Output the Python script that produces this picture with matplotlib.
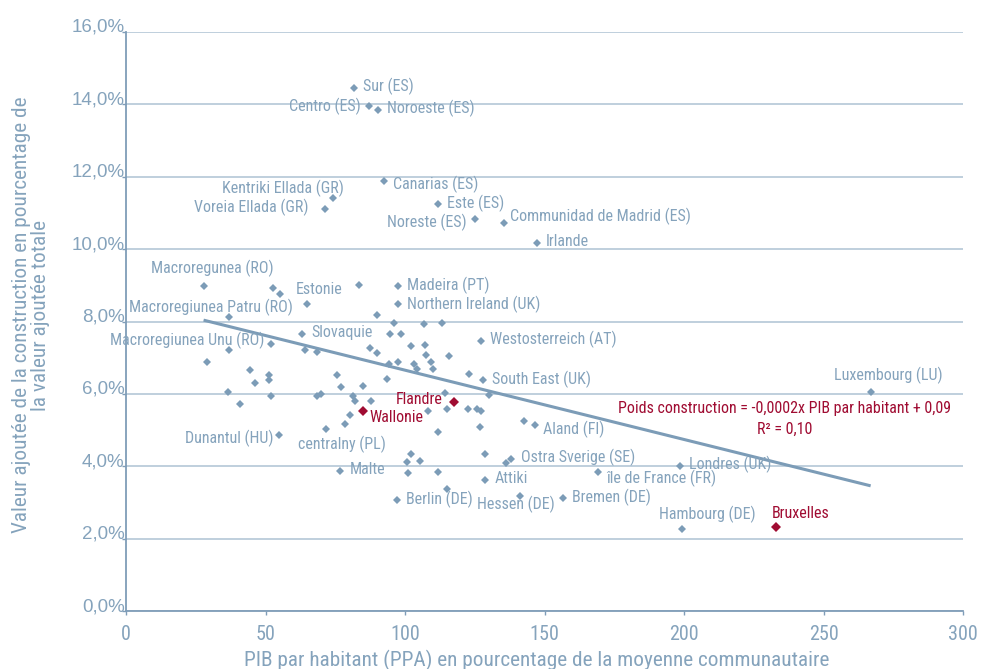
"""Poids de la construction vs PIB par habitant, régions européennes."""

import matplotlib
matplotlib.use("Agg")
import matplotlib.pyplot as plt
import matplotlib.ticker as mticker
import numpy as np

NARROW = ["Roboto Condensed", "Archivo Narrow", "PT Sans Narrow",
          "Liberation Sans Narrow", "IBM Plex Sans Condensed", "DejaVu Sans"]
REGULAR = ["Liberation Sans", "DejaVu Sans"]

BLUE = "#7c9cb7"
TEXT_BLUE = "#85a3bc"
RED = "#a00c32"
GRID = "#adc2d3"

# ---------------------------------------------------------------------------
# Data: PIB par habitant (PPA, % moyenne UE) and poids construction (%)
# ---------------------------------------------------------------------------

LABELLED_NAMES = [
    "Sur (ES)", "Centro (ES)", "Noroeste (ES)", "Canarias (ES)",
    "Kentriki Ellada (GR)", "Voreia Ellada (GR)", "Este (ES)", "Noreste (ES)",
    "Communidad de Madrid (ES)", "Irlande", "Macroregunea (RO)", "Estonie",
    "Madeira (PT)", "Northern Ireland (UK)", "Macroregiunea Patru (RO)",
    "Slovaquie", "Westosterreich (AT)", "Macroregiunea Unu (RO)",
    "South East (UK)", "Luxembourg (LU)", "Dunantul (HU)", "centralny (PL)",
    "Aland (FI)", "Ostra Sverige (SE)", "Malte", "Attiki", "île de France (FR)",
    "Londres (UK)", "Berlin (DE)", "Hessen (DE)", "Bremen (DE)", "Hambourg (DE)",
]
LABELLED_PIB = [
    81.7, 87.1, 90.3, 92.4, 74.3, 71.3, 111.7, 125.0,
    135.4, 147.2, 27.8, 65.0, 97.5, 97.5, 36.8,
    63.2, 127.2, 36.9, 127.8, 266.9, 54.8, 71.6,
    146.5, 138.1, 76.7, 128.8, 169.3, 198.5, 97.0, 141.1, 156.7, 199.4,
]
LABELLED_POIDS = [
    14.45, 13.95, 13.84, 11.88, 11.41, 11.12, 11.24, 10.83,
    10.72, 10.16, 8.98, 8.47, 8.97, 8.47, 8.12,
    7.65, 7.46, 7.20, 6.37, 6.06, 4.87, 5.02,
    5.13, 4.20, 3.88, 3.62, 3.83, 4.01, 3.06, 3.18, 3.11, 2.26,
]

OTHER_PIB = [
    52.7, 55.3, 83.4, 90.0, 96.1, 106.9, 113.4, 94.8, 98.7, 52.0,
    64.2, 68.6, 87.5, 90.1, 102.1, 107.0, 107.4, 115.6, 28.9, 94.1,
    97.4, 103.2, 104.4, 109.2, 110.2, 123.1, 44.4, 51.4, 51.2, 46.1,
    75.7, 77.2, 84.9, 93.7, 114.5, 130.0, 36.7, 40.8, 52.0, 68.4,
    69.8, 81.4, 82.1, 87.8, 115.1, 108.3, 122.6, 125.7, 127.3, 126.9,
    112.0, 80.4, 78.5, 128.7, 136.2, 102.0, 100.8, 105.3, 101.2, 111.9,
    114.9, 142.7,
]
OTHER_POIDS = [
    8.93, 8.76, 9.02, 8.17, 7.96, 7.94, 7.96, 7.66, 7.66, 7.37,
    7.21, 7.15, 7.26, 7.13, 7.31, 7.35, 7.07, 7.05, 6.87, 6.83,
    6.89, 6.82, 6.70, 6.87, 6.68, 6.55, 6.67, 6.52, 6.37, 6.29,
    6.53, 6.18, 6.22, 6.41, 6.02, 5.97, 6.05, 5.73, 5.94, 5.95,
    6.00, 5.95, 5.81, 5.81, 5.59, 5.52, 5.58, 5.57, 5.53, 5.08,
    4.94, 5.43, 5.17, 4.34, 4.08, 4.34, 4.13, 4.15, 3.80, 3.83,
    3.38, 5.25,
]

BELGIUM_NAMES = ["Flandre", "Wallonie", "Bruxelles"]
BELGIUM_PIB = [117.7, 84.9, 233.1]
BELGIUM_POIDS = [5.78, 5.52, 2.32]

# Linear trend (in % points)
TREND_SLOPE = -0.01915
TREND_INTERCEPT = 8.57

EQUATION = "Poids construction = -0,0002x PIB par habitant + 0,09"
R2_TEXT = "R² = 0,10"

X_TICKS = [0, 50, 100, 150, 200, 250, 300]
Y_TICKS = [0, 2, 4, 6, 8, 10, 12, 14, 16]

# label placement: (dx, dy) in pixels from the marker, horizontal alignment
LABEL_POS = {
    "Sur (ES)": (8.7, 1.3, "left"),
    "Centro (ES)": (-8, 0.3, "right"),
    "Noroeste (ES)": (9, 1.3, "left"),
    "Canarias (ES)": (9, -3.3, "left"),
    "Kentriki Ellada (GR)": (10.7, 10, "right"),
    "Voreia Ellada (GR)": (-16.7, 1.7, "right"),
    "Este (ES)": (9, 0.6, "left"),
    "Noreste (ES)": (-8, -3.3, "right"),
    "Communidad de Madrid (ES)": (6.3, 6.3, "left"),
    "Irlande": (9, 2.3, "left"),
    "Macroregunea (RO)": (9, 17.7, "center"),
    "Estonie": (-11.6, 15, "left"),
    "Madeira (PT)": (8.7, 0.6, "left"),
    "Northern Ireland (UK)": (8.7, 0.6, "left"),
    "Macroregiunea Patru (RO)": (-17.9, 10, "center"),
    "Slovaquie": (9, 1.7, "left"),
    "Westosterreich (AT)": (9, 2, "left"),
    "Macroregiunea Unu (RO)": (-41.5, 10.3, "center"),
    "South East (UK)": (9, 1, "left"),
    "Luxembourg (LU)": (18, 16, "center"),
    "Dunantul (HU)": (-5.7, -3.6, "right"),
    "centralny (PL)": (15.8, -14.8, "center"),
    "Aland (FI)": (8.6, -4, "left"),
    "Ostra Sverige (SE)": (9.4, 1.7, "left"),
    "Malte": (9.3, 1.4, "left"),
    "Attiki": (9, 1.7, "left"),
    "île de France (FR)": (7.7, -6, "left"),
    "Londres (UK)": (9.3, 1.3, "left"),
    "Berlin (DE)": (9, 1.3, "left"),
    "Hessen (DE)": (-4.2, -8, "center"),
    "Bremen (DE)": (9, 1.3, "left"),
    "Hambourg (DE)": (25.2, 15, "center"),
    "Flandre": (-11.3, 2, "right"),
    "Wallonie": (6.5, -6.7, "left"),
    "Bruxelles": (-4.3, 13.7, "left"),
}

fig = plt.figure(figsize=(9.84, 6.69), dpi=100)
ax = fig.add_axes([126 / 984, 58 / 669, 837 / 984, 579 / 669])

ax.set_xlim(0, 300)
ax.set_ylim(0, 16)
ax.set_xticks(X_TICKS)
ax.set_yticks(Y_TICKS)
ax.yaxis.set_major_formatter(
    mticker.FuncFormatter(lambda v, _: f"{v:.1f}%".replace(".", ","))
)

ax.grid(axis="y", color=GRID, linewidth=1.1, zorder=0)
ax.grid(axis="x", visible=False)
for side in ["top", "right"]:
    ax.spines[side].set_visible(False)
for side in ["left", "bottom"]:
    ax.spines[side].set_color("#7f9db8")
    ax.spines[side].set_linewidth(1.3)

ax.tick_params(axis="y", length=3, width=1, color="#7f9db8", pad=-2,
               labelsize=13.5, labelcolor=TEXT_BLUE)
ax.tick_params(axis="x", length=3, width=1, color="#7f9db8", pad=7,
               labelsize=14.5, labelcolor=TEXT_BLUE)
for lab in ax.get_yticklabels():
    lab.set_family(REGULAR)
    lab.set_verticalalignment("baseline")
for lab in ax.get_xticklabels():
    lab.set_family(NARROW)

# trend line
all_pib = LABELLED_PIB + OTHER_PIB + BELGIUM_PIB
tx = np.array([min(all_pib), max(all_pib)])
ax.plot(tx, TREND_SLOPE * tx + TREND_INTERCEPT, color=BLUE, linewidth=2.2,
        solid_capstyle="butt", zorder=2)

# points
ax.plot(OTHER_PIB, OTHER_POIDS, "D", color=BLUE, markersize=4.1,
        markeredgewidth=0, zorder=3)
ax.plot(LABELLED_PIB, LABELLED_POIDS, "D", color=BLUE, markersize=4.1,
        markeredgewidth=0, zorder=3)
ax.plot(BELGIUM_PIB, BELGIUM_POIDS, "D", color=RED, markersize=4.7,
        markeredgewidth=0, zorder=4)

def put_labels(names, xs, ys, color):
    for name, x, y in zip(names, xs, ys):
        dx, dy, ha = LABEL_POS[name]
        ax.annotate(name, (x, y), xytext=(dx, dy), textcoords="offset pixels",
                    ha=ha, va="center", fontsize=11.5, color=color,
                    family=NARROW, zorder=5)

put_labels(LABELLED_NAMES, LABELLED_PIB, LABELLED_POIDS, TEXT_BLUE)
put_labels(BELGIUM_NAMES, BELGIUM_PIB, BELGIUM_POIDS, RED)

ax.text(236.1, 5.60, EQUATION, ha="center", va="center", fontsize=11.5,
        color=RED, family=NARROW)
ax.text(236.1, 5.02, R2_TEXT, ha="center", va="center", fontsize=11.5,
        color=RED, family=NARROW)

ax.set_xlabel("PIB par habitant (PPA) en pourcentage de la moyenne communautaire",
              fontsize=15.3, color=TEXT_BLUE, family=NARROW, labelpad=4)
ax.xaxis.label.set_x(0.4904)
fig.text(31 / 984, 0.529,
         "Valeur ajoutée de la construction en pourcentage de\nla valeur ajoutée totale",
         rotation=90, ha="center", va="center", multialignment="center",
         fontsize=15.3, color=TEXT_BLUE, family=NARROW, linespacing=1.05)

fig.savefig("out.png", dpi=100)
